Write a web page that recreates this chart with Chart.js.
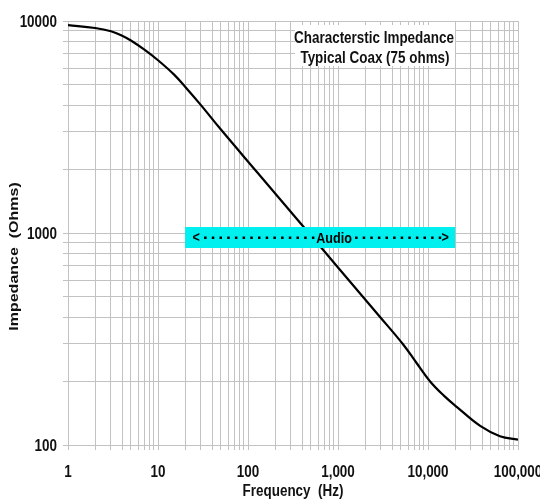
<!DOCTYPE html>
<html>
<head>
<meta charset="utf-8">
<script src="https://cdn.jsdelivr.net/npm/chart.js@4/dist/chart.umd.min.js"></script>
<style>
html,body{margin:0;padding:0;background:#fff;}
canvas{display:block;}
</style>
</head>
<body>
<canvas id="c" width="540" height="499"></canvas>
<script>
// ---- data ----
const frequencies = [1, 2, 3, 4, 5, 7, 10, 15, 20, 30, 50, 125, 400, 1000, 2900, 5300, 7500, 10500, 15000, 21000, 38000, 63000, 100000];
const impedance   = [9570, 9270, 8950, 8530, 8090, 7345, 6530, 5600, 4900, 4010, 3075, 1945, 1088, 688, 404, 298, 243, 200, 171, 151, 123, 110, 106];
const xTickValues = [1, 10, 100, 1000, 10000, 100000];
const xTickLabels = ['1', '10', '100', '1,000', '10,000', '100,000'];
const yTickValues = [100, 1000, 10000];
const yTickLabels = ['100', '1000', '10000'];
const audioBand = [20, 20000];
const audioLevel = 1000;
const audioLabel = 'Audio';
const titleLines = ['Characterstic Impedance', 'Typical Coax (75 ohms)'];
const xTitle = 'Frequency  (Hz)';
const yTitle = 'Impedance  (Ohms)';

const FONT = "'Liberation Sans', Arial, sans-serif";
const SQUEEZE = 0.84;

function logGrid(min, max) {
  const out = [];
  for (let e = Math.round(Math.log10(min)); Math.pow(10, e) <= max; e++) {
    for (let d = 1; d <= 9; d++) {
      const v = d * Math.pow(10, e);
      if (v >= min && v <= max) out.push(v);
    }
  }
  return out;
}

function squeezedText(ctx, text, x, y, align, size) {
  ctx.save();
  ctx.font = 'bold ' + size + 'px ' + FONT;
  ctx.textAlign = align;
  ctx.textBaseline = 'alphabetic';
  ctx.translate(x, y);
  ctx.scale(SQUEEZE, 1);
  ctx.fillText(text, 0, 0);
  ctx.restore();
}

const decor = {
  id: 'decor',
  afterDatasetsDraw(chart) {
    const ctx = chart.ctx, ca = chart.chartArea;
    const xs = chart.scales.x, ys = chart.scales.y;
    ctx.save();
    // title box
    const bx = ca.left + 227, by = ca.top + 4, bw = 160, bh = 41;
    ctx.fillStyle = '#fff';
    ctx.fillRect(bx, by, bw, bh);
    ctx.fillStyle = '#111';
    squeezedText(ctx, titleLines[0], bx + 79, by + 18, 'center', 16);
    squeezedText(ctx, titleLines[1], bx + 80, by + 38, 'center', 16);

    // audio band box
    const x1 = xs.getPixelForValue(audioBand[0]);
    const x2 = xs.getPixelForValue(audioBand[1]);
    const yc = ys.getPixelForValue(audioLevel);
    ctx.fillStyle = '#00f0f0';
    ctx.fillRect(x1, yc - 6, x2 - x1, 21);
    ctx.fillStyle = '#000';
    const tb = yc + 9.7;
    const ty = yc + 4.5;
    squeezedText(ctx, '<', x1 + 11, tb - 1, 'center', 15);
    squeezedText(ctx, '>', x2 - 10, tb - 1, 'center', 15);
    const ax = (x1 + x2) / 2 + 14;
    squeezedText(ctx, audioLabel, ax, tb, 'center', 15);
    for (let x = x1 + 20; x < ax - 20; x += 7.7) ctx.fillRect(x - 1, ty - 1, 2.5, 2.5);
    for (let x = ax + 22; x < x2 - 15; x += 7.6) ctx.fillRect(x - 1, ty - 1, 2.5, 2.5);

    // tick labels
    ctx.fillStyle = '#111';
    xTickValues.forEach((v, i) => {
      squeezedText(ctx, xTickLabels[i], xs.getPixelForValue(v), ca.bottom + 32, 'center', 16);
    });
    yTickValues.forEach((v, i) => {
      squeezedText(ctx, yTickLabels[i], ca.left - 11, ys.getPixelForValue(v) + 5.7, 'right', 16);
    });

    // axis titles
    squeezedText(ctx, xTitle, (ca.left + ca.right) / 2, 496, 'center', 16);
    ctx.save();
    ctx.translate(17.5, 256.5);
    ctx.rotate(-Math.PI / 2);
    ctx.scale(1, SQUEEZE);
    ctx.font = 'bold 16px ' + FONT;
    ctx.textAlign = 'center';
    ctx.textBaseline = 'alphabetic';
    ctx.fillText(yTitle, 0, 0);
    ctx.restore();
    ctx.restore();
  }
};

const gridColor = '#c2c2c2';

new Chart(document.getElementById('c'), {
  type: 'line',
  data: {
    datasets: [{
      data: frequencies.map((f, i) => ({ x: f, y: impedance[i] })),
      borderColor: '#000',
      borderWidth: 2.2,
      pointRadius: 0,
      fill: false,
      tension: 0.4
    }]
  },
  options: {
    responsive: false,
    animation: false,
    devicePixelRatio: 1,
    layout: { padding: { top: 21, right: 22, left: 0, bottom: 0 } },
    plugins: { legend: { display: false }, tooltip: { enabled: false } },
    scales: {
      x: {
        type: 'logarithmic',
        min: 1, max: 100000,
        afterBuildTicks: s => { s.ticks = logGrid(1, 100000).map(v => ({ value: v })); },
        afterFit: s => { s.height = 54; s.paddingLeft = 0; s.paddingRight = 0; },
        border: { display: false },
        grid: { color: gridColor, lineWidth: 1, tickLength: 5, drawTicks: true },
        ticks: { display: false, autoSkip: false, maxRotation: 0, minRotation: 0 }
      },
      y: {
        type: 'logarithmic',
        min: 100, max: 10000,
        afterBuildTicks: s => { s.ticks = logGrid(100, 10000).map(v => ({ value: v })); },
        afterFit: s => { s.width = 68; s.paddingTop = 0; s.paddingBottom = 0; },
        border: { display: false },
        grid: { color: gridColor, lineWidth: 1, tickLength: 5, drawTicks: true },
        ticks: { display: false, autoSkip: false }
      }
    }
  },
  plugins: [decor]
});
</script>
</body>
</html>
